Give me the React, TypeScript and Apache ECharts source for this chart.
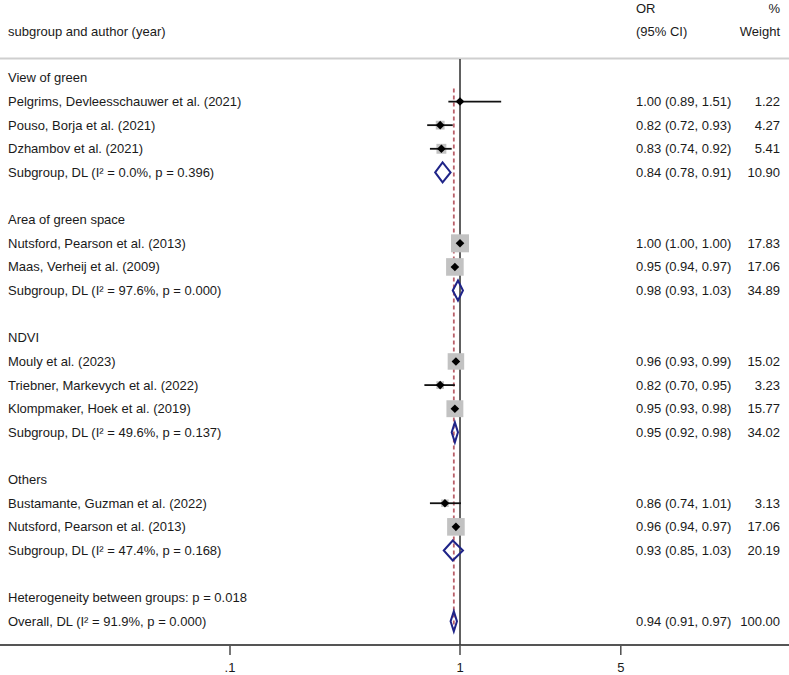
import React, { useEffect, useRef } from "react";
import * as echarts from "echarts";

const labels = [
  "View of green",
  "Pelgrims, Devleesschauwer et al. (2021)",
  "Pouso, Borja et al. (2021)",
  "Dzhambov et al. (2021)",
  "Subgroup, DL (I² = 0.0%, p = 0.396)",
  "",
  "Area of green space",
  "Nutsford, Pearson et al. (2013)",
  "Maas, Verheij et al. (2009)",
  "Subgroup, DL (I² = 97.6%, p = 0.000)",
  "",
  "NDVI",
  "Mouly et al. (2023)",
  "Triebner, Markevych et al. (2022)",
  "Klompmaker, Hoek et al. (2019)",
  "Subgroup, DL (I² = 49.6%, p = 0.137)",
  "",
  "Others",
  "Bustamante, Guzman et al. (2022)",
  "Nutsford, Pearson et al. (2013)",
  "Subgroup, DL (I² = 47.4%, p = 0.168)",
  "",
  "Heterogeneity between groups: p = 0.018",
  "Overall, DL (I² = 91.9%, p = 0.000)",
];
const kinds = [
  "head", "study", "study", "study", "pooled", "blank",
  "head", "study", "study", "pooled", "blank",
  "head", "study", "study", "study", "pooled", "blank",
  "head", "study", "study", "pooled", "blank",
  "note", "pooled",
];
const orValues = [null, 1.0, 0.82, 0.83, 0.84, null, null, 1.0, 0.95, 0.98, null, null, 0.96, 0.82, 0.95, 0.95, null, null, 0.86, 0.96, 0.93, null, null, 0.94];
const ciLow = [null, 0.89, 0.72, 0.74, 0.78, null, null, 1.0, 0.94, 0.93, null, null, 0.93, 0.7, 0.93, 0.92, null, null, 0.74, 0.94, 0.85, null, null, 0.91];
const ciHigh = [null, 1.51, 0.93, 0.92, 0.91, null, null, 1.0, 0.97, 1.03, null, null, 0.99, 0.95, 0.98, 0.98, null, null, 1.01, 0.97, 1.03, null, null, 0.97];
const weights = [null, 1.22, 4.27, 5.41, 10.9, null, null, 17.83, 17.06, 34.89, null, null, 15.02, 3.23, 15.77, 34.02, null, null, 3.13, 17.06, 20.19, null, null, 100.0];
const axisTicks = [0.1, 1, 5];
const tickLabels = [".1", "1", "5"];
const overallOR = 0.94;

const FONT = "'Liberation Sans', Arial, sans-serif";
const FS = 13;
const TXT = "#1a1a1a";
const NAVY = "#1f2488";

const lg = (v: number) => Math.log10(v);

export default function App() {
  const ref = useRef<HTMLDivElement>(null);
  useEffect(() => {
    if (!ref.current) return;
    const chart = echarts.init(ref.current, null, { renderer: "svg" });

    const rowData = labels.map((_, i) => [orValues[i] != null ? lg(orValues[i] as number) : 0, i]);
    const tickData = axisTicks.map((v) => [lg(v), 24]);

    const option: any = {
      animation: false,
      backgroundColor: "#fff",
      grid: { left: 0, right: 0, top: 59, bottom: 30 },
      xAxis: {
        type: "value",
        min: -2,
        max: 1.4304,
        axisLine: { show: true, onZero: false, lineStyle: { color: "#555", width: 2 } },
        axisTick: { show: false },
        axisLabel: { show: false },
        splitLine: { show: false },
      },
      yAxis: { type: "value", inverse: true, min: -0.8, max: 24, show: false },
      graphic: [
        { type: "line", shape: { x1: 0, y1: 58.5, x2: 789, y2: 58.5 }, style: { stroke: "#cfcfcf", lineWidth: 2 }, z: 1 },
        { type: "text", x: 636, y: 8, style: { text: "OR", font: `${FS}px ${FONT}`, fill: TXT, textVerticalAlign: "middle" } },
        { type: "text", x: 780, y: 8, style: { text: "%", font: `${FS}px ${FONT}`, fill: TXT, textAlign: "right", textVerticalAlign: "middle" } },
        { type: "text", x: 8, y: 31, style: { text: "subgroup and author (year)", font: `${FS}px ${FONT}`, fill: TXT, textVerticalAlign: "middle" } },
        { type: "text", x: 636, y: 31, style: { text: "(95% CI)", font: `${FS}px ${FONT}`, fill: TXT, textVerticalAlign: "middle" } },
        { type: "text", x: 780, y: 31, style: { text: "Weight", font: `${FS}px ${FONT}`, fill: TXT, textAlign: "right", textVerticalAlign: "middle" } },
      ],
      series: [
        {
          type: "custom",
          name: "guides",
          z: 1,
          data: [[0, 0]],
          renderItem: (params: any, api: any) => {
            const top = api.coord([0, -0.8]);
            const bot = api.coord([0, 24]);
            const dTop = api.coord([lg(overallOR), 0.45]);
            const dBot = api.coord([lg(overallOR), 23.35]);
            return {
              type: "group",
              children: [
                { type: "line", shape: { x1: dTop[0], y1: dTop[1], x2: dBot[0], y2: dBot[1] }, style: { stroke: "#b9606a", lineWidth: 1.8, lineDash: [4, 3] } },
                { type: "line", shape: { x1: top[0], y1: top[1], x2: bot[0], y2: bot[1] }, style: { stroke: "#3a3a3a", lineWidth: 1.6 } },
              ],
            };
          },
        },
        {
          type: "custom",
          name: "ticks",
          z: 2,
          data: tickData,
          renderItem: (params: any, api: any) => {
            const p = api.coord([api.value(0), api.value(1)]);
            return {
              type: "group",
              children: [
                { type: "line", shape: { x1: p[0], y1: p[1], x2: p[0], y2: p[1] + 10 }, style: { stroke: "#555", lineWidth: 1.6 } },
                { type: "text", x: p[0], y: p[1] + 22, style: { text: tickLabels[params.dataIndex], font: `${FS}px ${FONT}`, fill: TXT, textAlign: "center", textVerticalAlign: "middle" } },
              ],
            };
          },
        },
        {
          type: "custom",
          name: "rows",
          z: 3,
          data: rowData,
          renderItem: (params: any, api: any) => {
            const i = params.dataIndex;
            const y = api.coord([0, i])[1];
            const children: any[] = [];
            if (labels[i]) {
              children.push({ type: "text", x: 8, y, style: { text: labels[i], font: `${FS}px ${FONT}`, fill: TXT, textVerticalAlign: "middle" } });
            }
            const o = orValues[i];
            if (o != null) {
              const lo = ciLow[i] as number;
              const hi = ciHigh[i] as number;
              const w = weights[i] as number;
              children.push({
                type: "text", x: 636, y,
                style: { text: `${o.toFixed(2)} (${lo.toFixed(2)}, ${hi.toFixed(2)})`, font: `${FS}px ${FONT}`, fill: TXT, textVerticalAlign: "middle" },
              });
              children.push({
                type: "text", x: 780, y,
                style: { text: w.toFixed(2), font: `${FS}px ${FONT}`, fill: TXT, textAlign: "right", textVerticalAlign: "middle" },
              });
              const xo = api.coord([lg(o), i])[0];
              const xl = api.coord([lg(lo), i])[0];
              const xh = api.coord([lg(hi), i])[0];
              if (kinds[i] === "study") {
                const s = 4.26 * Math.sqrt(w);
                children.push({ type: "rect", shape: { x: xo - s / 2, y: y - s / 2, width: s, height: s }, style: { fill: "#c2c2c2" } });
                children.push({ type: "line", shape: { x1: xl, y1: y, x2: xh, y2: y }, style: { stroke: "#111", lineWidth: 1.8 } });
                const m = 4.3;
                children.push({ type: "polygon", shape: { points: [[xo - m, y], [xo, y - m], [xo + m, y], [xo, y + m]] }, style: { fill: "#000" } });
              } else {
                const h = 10;
                children.push({
                  type: "polygon",
                  shape: { points: [[xl, y], [xo, y - h], [xh, y], [xo, y + h]] },
                  style: { fill: "none", stroke: NAVY, lineWidth: 2, lineJoin: "miter" },
                });
              }
            }
            return { type: "group", children };
          },
        },
      ],
    };
    chart.setOption(option);
    return () => chart.dispose();
  }, []);
  return <div ref={ref} style={{ position: "fixed", left: 0, top: 0, width: 789, height: 675, background: "#fff" }} />;
}
